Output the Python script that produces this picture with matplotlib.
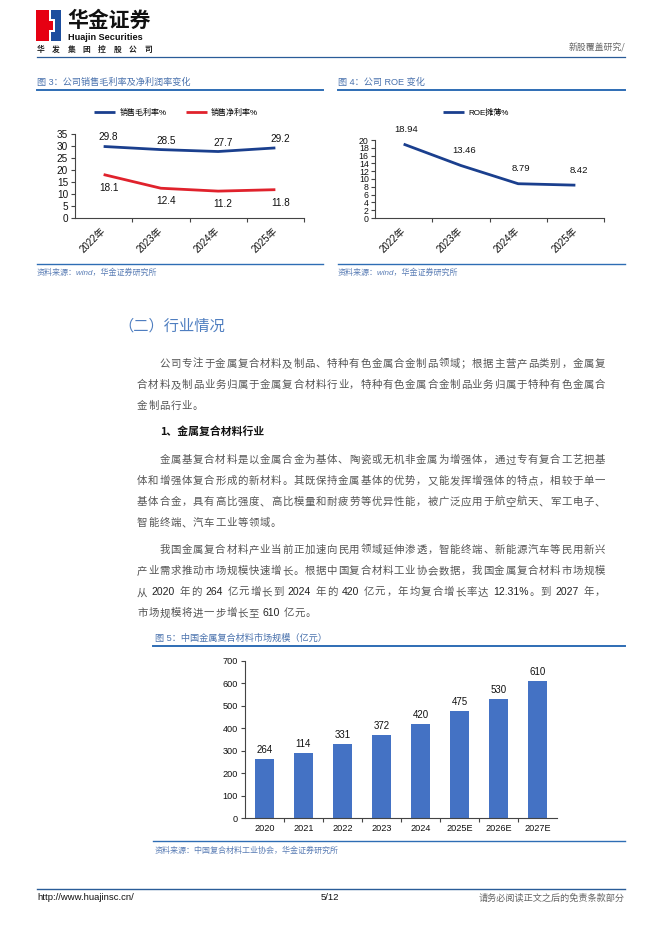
import matplotlib
matplotlib.use('Agg')
import matplotlib.pyplot as plt
import numpy as np
from matplotlib.lines import Line2D
from matplotlib.patches import Polygon

plt.rcParams['font.family'] = ['Liberation Sans', 'Noto Sans CJK SC', 'DejaVu Sans']

# ---------------- data ----------------
years_a = ['2022年', '2023年', '2024年', '2025年']
gross_margin = [29.8, 28.5, 27.7, 29.2]
net_margin = [18.1, 12.4, 11.2, 11.8]
roe = [18.94, 13.46, 8.79, 8.42]
market_years = ['2020', '2021', '2022', '2023', '2024', '2025E', '2026E', '2027E']
market_size = [264, 288, 331, 372, 420, 475, 530, 610]
market_labels = ['264', '114', '331', '372', '420', '475', '530', '610']

para1 = ["公司专注于金属复合材料及制品、特种有色金属合金制品领域；根据主营产品类别，金属复",
         "合材料及制品业务归属于金属复合材料行业，特种有色金属合金制品业务归属于特种有色金属合",
         "金制品行业。"]
para2 = ["金属基复合材料是以金属合金为基体、陶瓷或无机非金属为增强体，通过专有复合工艺把基",
         "体和增强体复合形成的新材料。其既保持金属基体的优势，又能发挥增强体的特点，相较于单一",
         "基体合金，具有高比强度、高比模量和耐疲劳等优异性能，被广泛应用于航空航天、军工电子、",
         "智能终端、汽车工业等领域。"]
para3 = ["我国金属复合材料产业当前正加速向民用领域延伸渗透，智能终端、新能源汽车等民用新兴",
         "产业需求推动市场规模快速增长。根据中国复合材料工业协会数据，我国金属复合材料市场规模",
         "从 2020 年的 264 亿元增长到 2024 年的 420 亿元，年均复合增长率达 12.31%。到 2027 年，",
         "市场规模将进一步增长至 610 亿元。"]

W, H = 662, 936
fig = plt.figure(figsize=(W / 100, H / 100), dpi=100)
fig.patch.set_facecolor('white')

BLUE_LINE = '#2E6DB4'
TITLE_C = '#4A72AD'
SRC_C = '#5A7DB5'


def fx(x):
    return x / W


def fy(y):
    return 1 - y / H


def ax_px(l, t, r, b):
    return fig.add_axes([l / W, 1 - b / H, (r - l) / W, (b - t) / H])


def txt(x, y, s, **kw):
    kw.setdefault('va', 'center')
    return fig.text(fx(x), fy(y), s, **kw)


def hline(x0, x1, y, color=BLUE_LINE, lw=1.0):
    fig.add_artist(Line2D([fx(x0), fx(x1)], [fy(y), fy(y)], color=color, lw=lw,
                          transform=fig.transFigure))


# ---------------- header ----------------
fig.add_artist(Polygon([(fx(36), fy(10)), (fx(49), fy(10)), (fx(49), fy(21)), (fx(53), fy(21)),
                        (fx(53), fy(30)), (fx(49), fy(30)), (fx(49), fy(41)), (fx(36), fy(41))],
                       closed=True, transform=fig.transFigure, color='#E60012', lw=0))
fig.add_artist(Polygon([(fx(51), fy(10)), (fx(61), fy(10)), (fx(61), fy(41)), (fx(51), fy(41)),
                        (fx(51), fy(32)), (fx(55), fy(32)), (fx(55), fy(19)), (fx(51), fy(19))],
                       closed=True, transform=fig.transFigure, color='#1D4E9E', lw=0))
txt(67, 20, '华金证券', fontsize=15, fontweight='bold', color='#111111',
    family=['Noto Sans CJK SC'])
txt(68, 37, 'Huajin Securities', fontsize=6.6, fontweight='bold', color='#111111')
for i, ch in enumerate('华发集团控股公司'):
    txt(40.5 + i * 15.4, 52, ch, fontsize=5.6, fontweight='bold', color='#222222', ha='center',
        va='baseline', family=['Noto Sans CJK SC'])
txt(625, 48, '新股覆盖研究/', fontsize=6.4, color='#666666', ha='right',
    family=['Noto Sans CJK SC'])
hline(37, 625, 57, color='#2A5C98', lw=0.9)

# ---------------- figure titles ----------------
txt(37, 82, '图 3：公司销售毛利率及净利润率变化', fontsize=6.6, color=TITLE_C)
hline(37, 323, 90, lw=1.4)
txt(338, 82, '图 4：公司 ROE 变化', fontsize=6.6, color=TITLE_C)
hline(338, 625, 90, lw=1.4)


def style_line_axes(ax, ymax, ystep, ytick_fs):
    ax.set_xlim(-0.5, 3.5)
    ax.set_ylim(0, ymax)
    for s in ['top', 'right']:
        ax.spines[s].set_visible(False)
    for s in ['left', 'bottom']:
        ax.spines[s].set_color('#444444')
        ax.spines[s].set_linewidth(0.8)
    ax.set_yticks(np.arange(0, ymax + 0.01, ystep))
    ax.tick_params(axis='y', length=3, width=0.8, color='#444444', labelsize=ytick_fs, pad=2,
                   labelcolor='#111111')
    ax.set_xticks([0.5, 1.5, 2.5, 3.5])
    ax.set_xticklabels([])
    ax.tick_params(axis='x', which='major', length=3, width=0.8, color='#444444')
    ax.set_xticks(range(4), minor=True)
    ax.set_xticklabels(years_a, minor=True, rotation=45, ha='right', va='center',
                       rotation_mode='anchor', fontsize=7, color='#111111')
    ax.tick_params(axis='x', which='minor', length=0, pad=8)
    ax.patch.set_alpha(0)


# ---------------- chart 3 ----------------
ax1 = ax_px(75, 134, 304, 218)
style_line_axes(ax1, 35, 5, 7.2)
x = np.arange(4)
l1, = ax1.plot(x, gross_margin, color='#1A3F8E', lw=2.0, solid_capstyle='butt')
l2, = ax1.plot(x, net_margin, color='#E0222C', lw=2.0, solid_capstyle='butt')
for i, v in enumerate(gross_margin):
    ax1.annotate(f'{v}', (i, v), xytext=(5, 9), textcoords='offset pixels', ha='center',
                 va='center', fontsize=7.2, color='#111111')
for i, v in enumerate(net_margin):
    ax1.annotate(f'{v}', (i, v), xytext=(5, -13), textcoords='offset pixels', ha='center',
                 va='center', fontsize=7.2, color='#111111')
fig.legend([l1, l2], ['销售毛利率%', '销售净利率%'], loc='center',
           bbox_to_anchor=(fx(176), fy(113)), ncol=2, frameon=False, fontsize=5.8,
           handlelength=2.6, handletextpad=0.5, columnspacing=2.4)
hline(37, 323, 264, lw=1.0)
txt(37, 273, '资料来源：wind，华金证券研究所', fontsize=5.8, color=SRC_C, fontstyle='italic')

# ---------------- chart 4 ----------------
ax2 = ax_px(375, 140, 604, 218)
style_line_axes(ax2, 20, 2, 6.3)
ax2.tick_params(axis='y', pad=1.5)
l3, = ax2.plot(x, roe, color='#1A3F8E', lw=2.0, solid_capstyle='butt')
for i, v in enumerate(roe):
    ax2.annotate(f'{v:.2f}', (i, v), xytext=(3, 15), textcoords='offset pixels', ha='center',
                 va='center', fontsize=6.8, color='#111111')
fig.legend([l3], ['ROE摊薄%'], loc='center', bbox_to_anchor=(fx(476), fy(113)), frameon=False,
           fontsize=5.8, handlelength=2.6, handletextpad=0.5)
hline(338, 625, 264, lw=1.0)
txt(338, 273, '资料来源：wind，华金证券研究所', fontsize=5.8, color=SRC_C, fontstyle='italic')

# ---------------- body text ----------------
EM_PT = 7.5
EM = EM_PT / 72 * 100
PITCH = 11.14
X0, X1 = 137, 605
BODY_C = '#555555'
BASE = 3.8
renderer = fig.canvas.get_renderer()
_wcache = {}


def is_ascii(ch):
    return ord(ch) < 128 and ch != ' '


def tokenize(s):
    toks, buf = [], ''
    for ch in s:
        if is_ascii(ch):
            buf += ch
        else:
            if buf:
                toks.append(buf)
                buf = ''
            toks.append(ch)
    if buf:
        toks.append(buf)
    return toks


def tok_width(t):
    if t == ' ':
        return 0.22 * EM
    if not is_ascii(t[0]):
        return EM
    if t not in _wcache:
        tt = fig.text(0, 0, t, fontsize=EM_PT)
        _wcache[t] = tt.get_window_extent(renderer).width
        tt.remove()
    return _wcache[t]


def draw_line(s, y, x0, justify):
    toks = tokenize(s)
    ws = [tok_width(t) for t in toks]
    if justify and len(toks) > 1:
        gap = (X1 - x0 - sum(ws)) / (len(toks) - 1)
    else:
        gap = PITCH - EM
    xc = x0
    for t, w in zip(toks, ws):
        if t != ' ':
            if is_ascii(t[0]):
                txt(xc, y + BASE, t, fontsize=EM_PT, color='#222222', ha='left', va='baseline')
            else:
                txt(xc + w / 2, y + BASE, t, fontsize=EM_PT, color=BODY_C, ha='center',
                    va='baseline', family=['Noto Sans CJK SC'])
        xc += w + gap


def draw_para(lines, ys):
    for i, (s, y) in enumerate(zip(lines, ys)):
        x0 = X0 + 2 * PITCH if i == 0 else X0
        draw_line(s, y, x0, justify=(i < len(lines) - 1))


txt(118, 326, '（二）行业情况', fontsize=11, color='#4F7EC0', family=['Noto Sans CJK SC'])
S = 21.2
draw_para(para1, [363, 363 + S, 363 + 2 * S])
txt(160, 431, '1、金属复合材料行业', fontsize=7.8, fontweight='bold', color='#111111',
    family=['Noto Sans CJK SC'])
draw_para(para2, [459 + i * S for i in range(4)])
draw_para(para3, [549 + i * S for i in range(4)])

# ---------------- chart 5 ----------------
txt(155, 638, '图 5：中国金属复合材料市场规模（亿元）', fontsize=6.6, color=TITLE_C)
hline(153, 625, 646, lw=1.4)
ax5 = ax_px(245, 661, 557, 818)
xb = np.arange(len(market_years))
bars = ax5.bar(xb, market_size, width=0.51, color='#4472C4', zorder=2)
ax5.set_xlim(-0.5, len(market_years) - 0.5)
ax5.set_ylim(0, 700)
ax5.set_yticks(np.arange(0, 701, 100))
for s in ['top', 'right']:
    ax5.spines[s].set_visible(False)
for s in ['left', 'bottom']:
    ax5.spines[s].set_color('#444444')
    ax5.spines[s].set_linewidth(0.8)
ax5.tick_params(axis='y', length=3, width=0.8, color='#444444', labelsize=6.6, pad=2,
                labelcolor='#111111')
ax5.set_xticks(np.arange(0.5, len(market_years) - 0.5, 1))
ax5.set_xticklabels([])
ax5.tick_params(axis='x', which='major', length=3, width=0.8, color='#444444')
ax5.set_xticks(xb, minor=True)
ax5.set_xticklabels(market_years, minor=True, fontsize=6.6, color='#111111')
ax5.tick_params(axis='x', which='minor', length=0, pad=4)
for rect, lab in zip(bars, market_labels):
    ax5.annotate(lab, (rect.get_x() + rect.get_width() / 2, rect.get_height()),
                 xytext=(0, 9), textcoords='offset pixels', ha='center', va='center',
                 fontsize=7, color='#111111')
hline(153, 625, 841, lw=1.0)
txt(155, 851, '资料来源：中国复合材料工业协会，华金证券研究所', fontsize=5.8, color=SRC_C,
    fontstyle='italic')

# ---------------- footer ----------------
hline(37, 625, 889, color='#2A5C98', lw=1.0)
txt(37, 898, 'http://www.huajinsc.cn/', fontsize=6.8, color='#111111')
txt(330, 898, '5/12', fontsize=6.8, color='#111111', ha='center')
txt(625, 898, '请务必阅读正文之后的免责条款部分', fontsize=6.6, color='#666666', ha='right',
    family=['Noto Sans CJK SC'])

fig.savefig('out.png', dpi=100, facecolor='white')
